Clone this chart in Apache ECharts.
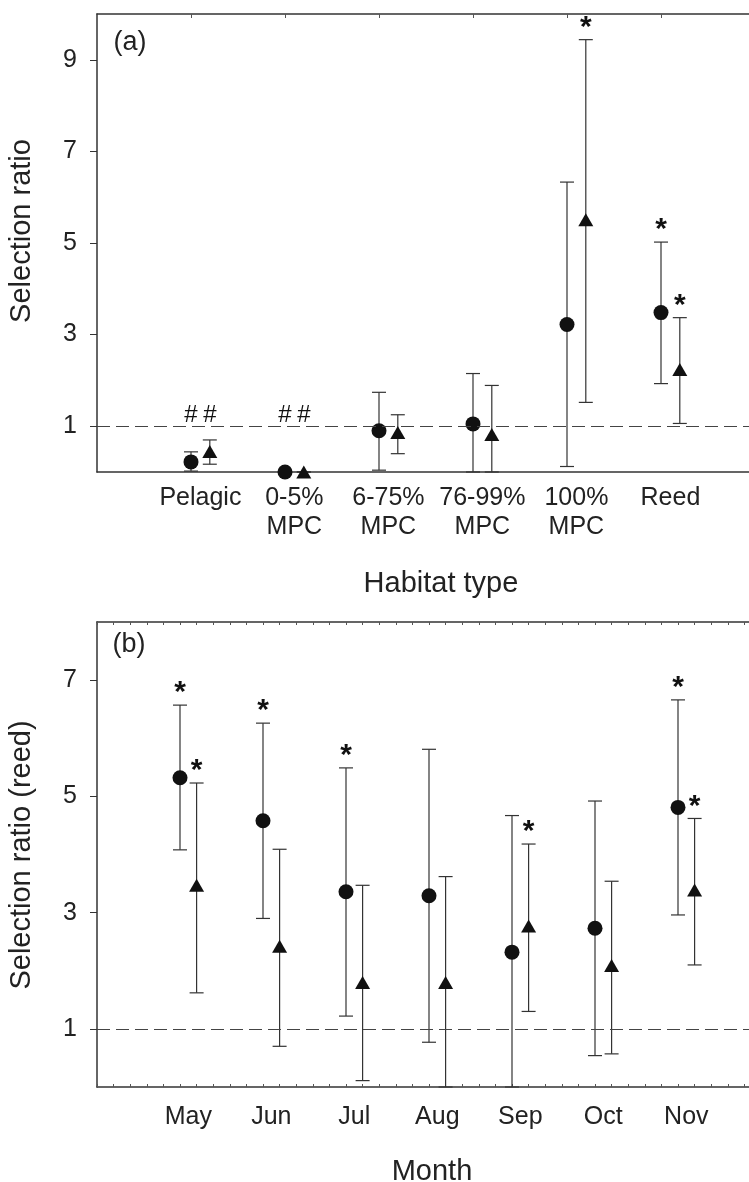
<!DOCTYPE html>
<html>
<head>
<meta charset="utf-8">
<script src="https://cdn.jsdelivr.net/npm/echarts@6/dist/echarts.min.js"></script>
<style>
  html, body { margin: 0; padding: 0; background: #fff; }
  #main { width: 749px; height: 1182px; }
</style>
</head>
<body>
<div id="main"></div>
<script>
// panel (a): habitat types
const habitats = ["Pelagic", "0-5%\nMPC", "6-75%\nMPC", "76-99%\nMPC", "100%\nMPC", "Reed"];
const circA = [0.22, 0.0, 0.90, 1.05, 3.22, 3.48];
const circALo = [0.02, 0.0, 0.04, 0.0, 0.12, 1.93];
const circAHi = [0.44, 0.0, 1.74, 2.15, 6.33, 5.02];
const triA = [0.45, 0.0, 0.86, 0.82, 5.51, 2.24];
const triALo = [0.17, 0.0, 0.40, 0.0, 1.52, 1.06];
const triAHi = [0.70, 0.0, 1.25, 1.89, 9.44, 3.37];
const starsA = [[4, "t"], [5, "c"], [5, "t"]];
const hashesA = [[0, "c"], [0, "t"], [1, "c"], [1, "t"]];
const yTicksA = [1, 3, 5, 7, 9];

// panel (b): months, reed
const months = ["May", "Jun", "Jul", "Aug", "Sep", "Oct", "Nov"];
const circB = [5.32, 4.58, 3.36, 3.29, 2.32, 2.73, 4.81];
const circBLo = [4.08, 2.90, 1.22, 0.77, 0.0, 0.54, 2.96];
const circBHi = [6.57, 6.26, 5.49, 5.81, 4.67, 4.92, 6.66];
const triB = [3.47, 2.42, 1.80, 1.80, 2.77, 2.09, 3.39];
const triBLo = [1.62, 0.70, 0.11, 0.0, 1.30, 0.57, 2.10];
const triBHi = [5.23, 4.09, 3.47, 3.62, 4.18, 3.54, 4.62];
const starsB = [[0, "c"], [0, "t"], [1, "c"], [2, "c"], [4, "t"], [6, "c"], [6, "t"]];
const yTicksB = [1, 3, 5, 7];

const FONT = "Liberation Sans, Arial, sans-serif";
const INK = "#111";
const OFF = 0.2; // triangle offset from circle
const XMAX_A = 652 / 94;
const XMAX_B = 652 / 83;

const axisLine = { show: true, onZero: false, lineStyle: { color: "#333", width: 1.5 } };

function errRender(params, api) {
    const x = api.value(0);
    const lo = api.coord([x, api.value(1)]);
    const hi = api.coord([x, api.value(2)]);
    const w = 7;
    const style = { stroke: "#333", lineWidth: 1.2 };
    return {
        type: "group",
        children: [
            { type: "line", shape: { x1: lo[0], y1: lo[1], x2: hi[0], y2: hi[1] }, style },
            { type: "line", shape: { x1: hi[0] - w, y1: hi[1], x2: hi[0] + w, y2: hi[1] }, style },
            { type: "line", shape: { x1: lo[0] - w, y1: lo[1], x2: lo[0] + w, y2: lo[1] }, style },
        ],
    };
}

function markRender(text, size, dy, weight) {
    return function (params, api) {
        const p = api.coord([api.value(0), api.value(1)]);
        return {
            type: "text",
            x: p[0],
            y: p[1] - dy,
            style: {
                text, fontSize: size, fontFamily: FONT, fontWeight: weight || "normal",
                fill: INK, align: "center", verticalAlign: "middle",
            },
        };
    };
}

function errData(lo, hi) {
    return lo.map((v, i) => [i + 1, v, hi[i]]);
}

function starData(list, hiC, hiT) {
    return list.map(([i, s]) => (s === "c" ? [i + 1, hiC[i]] : [i + 1 + OFF, hiT[i]]));
}

function panelSeries(xi, yi, circ, cLo, cHi, tri, tLo, tHi, stars) {
    return [
        { type: "custom", xAxisIndex: xi, yAxisIndex: yi, renderItem: errRender, data: errData(cLo, cHi), z: 2 },
        {
            type: "custom", xAxisIndex: xi, yAxisIndex: yi, renderItem: errRender, z: 2,
            data: tLo.map((v, i) => [i + 1 + OFF, v, tHi[i]]),
        },
        {
            type: "scatter", xAxisIndex: xi, yAxisIndex: yi, symbol: "circle", symbolSize: 15, clip: false, z: 3,
            itemStyle: { color: INK, opacity: 1 },
            data: circ.map((v, i) => [i + 1, v]),
            markLine: {
                silent: true, symbol: ["none", "none"], label: { show: false },
                lineStyle: { color: "#444", width: 1.1, type: [13, 6] },
                data: [{ yAxis: 1 }],
            },
        },
        {
            type: "scatter", xAxisIndex: xi, yAxisIndex: yi, symbol: "triangle", symbolSize: [15, 13], clip: false, z: 3,
            itemStyle: { color: INK, opacity: 1 },
            data: tri.map((v, i) => [i + 1 + OFF, v]),
        },
        {
            type: "custom", xAxisIndex: xi, yAxisIndex: yi, renderItem: markRender("*", 30, 12, "bold"), z: 4,
            data: starData(stars, cHi, tHi),
        },
    ];
}

const ticksB = [];
for (let i = 0; i <= 39; i++) ticksB.push(Math.round(i * 2) / 10);

const chart = echarts.init(document.getElementById("main"), null, { renderer: "canvas" });

const option = {
    animation: false,
    backgroundColor: "#fff",
    textStyle: { fontFamily: FONT },
    grid: [
        { left: 97, top: 14, right: 0, height: 458, containLabel: false, outerBoundsMode: "none" },
        { left: 97, top: 622, right: 0, height: 465, containLabel: false, outerBoundsMode: "none" },
    ],
    xAxis: [
        {
            gridIndex: 0, type: "value", min: 0, max: XMAX_A, position: "bottom",
            axisLine, axisTick: { show: false }, splitLine: { show: false },
            axisLabel: {
                customValues: habitats.map((_, i) => i + 1 + OFF / 2),
                formatter: (v) => habitats[Math.round(v - 1 - OFF / 2)],
                color: "#222", fontSize: 25, lineHeight: 29, margin: 12,
            },
        },
        {
            gridIndex: 0, type: "value", min: 0, max: XMAX_A, position: "top",
            axisLine, splitLine: { show: false }, axisLabel: { show: false },
            axisTick: { inside: true, length: 4, customValues: habitats.map((_, i) => i + 1), lineStyle: { color: "#555" } },
        },
        {
            gridIndex: 1, type: "value", min: 0, max: XMAX_B, position: "bottom",
            axisLine, splitLine: { show: false },
            axisTick: { inside: true, length: 3, customValues: ticksB, lineStyle: { color: "#555" } },
            axisLabel: {
                customValues: months.map((_, i) => i + 1 + OFF / 2),
                formatter: (v) => months[Math.round(v - 1 - OFF / 2)],
                color: "#222", fontSize: 25, lineHeight: 28, margin: 16,
            },
        },
        {
            gridIndex: 1, type: "value", min: 0, max: XMAX_B, position: "top",
            axisLine, splitLine: { show: false }, axisLabel: { show: false },
            axisTick: { inside: true, length: 3, customValues: ticksB, lineStyle: { color: "#555" } },
        },
    ],
    yAxis: [
        {
            gridIndex: 0, type: "value", min: 0, max: 10,
            axisLine, splitLine: { show: false },
            axisTick: { show: true, length: 7, customValues: yTicksA, lineStyle: { color: "#333" } },
            axisLabel: { customValues: yTicksA, color: "#222", fontSize: 25, margin: 20 },
        },
        {
            gridIndex: 1, type: "value", min: 0, max: 8,
            axisLine, splitLine: { show: false },
            axisTick: { show: true, length: 7, customValues: yTicksB, lineStyle: { color: "#333" } },
            axisLabel: { customValues: yTicksB, color: "#222", fontSize: 25, margin: 20 },
        },
    ],
    series: [
        ...panelSeries(0, 0, circA, circALo, circAHi, triA, triALo, triAHi, starsA),
        {
            type: "custom", xAxisIndex: 0, yAxisIndex: 0, renderItem: markRender("#", 24, 11), z: 4,
            data: hashesA.map(([i, s]) => [i + 1 + (s === "t" ? OFF : 0), 1]),
        },
        ...panelSeries(2, 1, circB, circBLo, circBHi, triB, triBLo, triBHi, starsB),
    ],
    graphic: [
        { type: "text", x: 130, y: 43, style: { text: "(a)", fontSize: 27, fontFamily: FONT, fill: "#222", align: "center", verticalAlign: "middle" } },
        { type: "text", x: 129, y: 645, style: { text: "(b)", fontSize: 27, fontFamily: FONT, fill: "#222", align: "center", verticalAlign: "middle" } },
        { type: "text", x: 22, y: 231, rotation: Math.PI / 2, style: { text: "Selection ratio", fontSize: 29, fontFamily: FONT, fill: "#222", align: "center", verticalAlign: "middle" } },
        { type: "text", x: 22, y: 855, rotation: Math.PI / 2, style: { text: "Selection ratio (reed)", fontSize: 29, fontFamily: FONT, fill: "#222", align: "center", verticalAlign: "middle" } },
        { type: "text", x: 441, y: 584, style: { text: "Habitat type", fontSize: 29, fontFamily: FONT, fill: "#222", align: "center", verticalAlign: "middle" } },
        { type: "text", x: 432, y: 1172, style: { text: "Month", fontSize: 29, fontFamily: FONT, fill: "#222", align: "center", verticalAlign: "middle" } },
    ],
};

chart.setOption(option);
</script>
</body>
</html>
